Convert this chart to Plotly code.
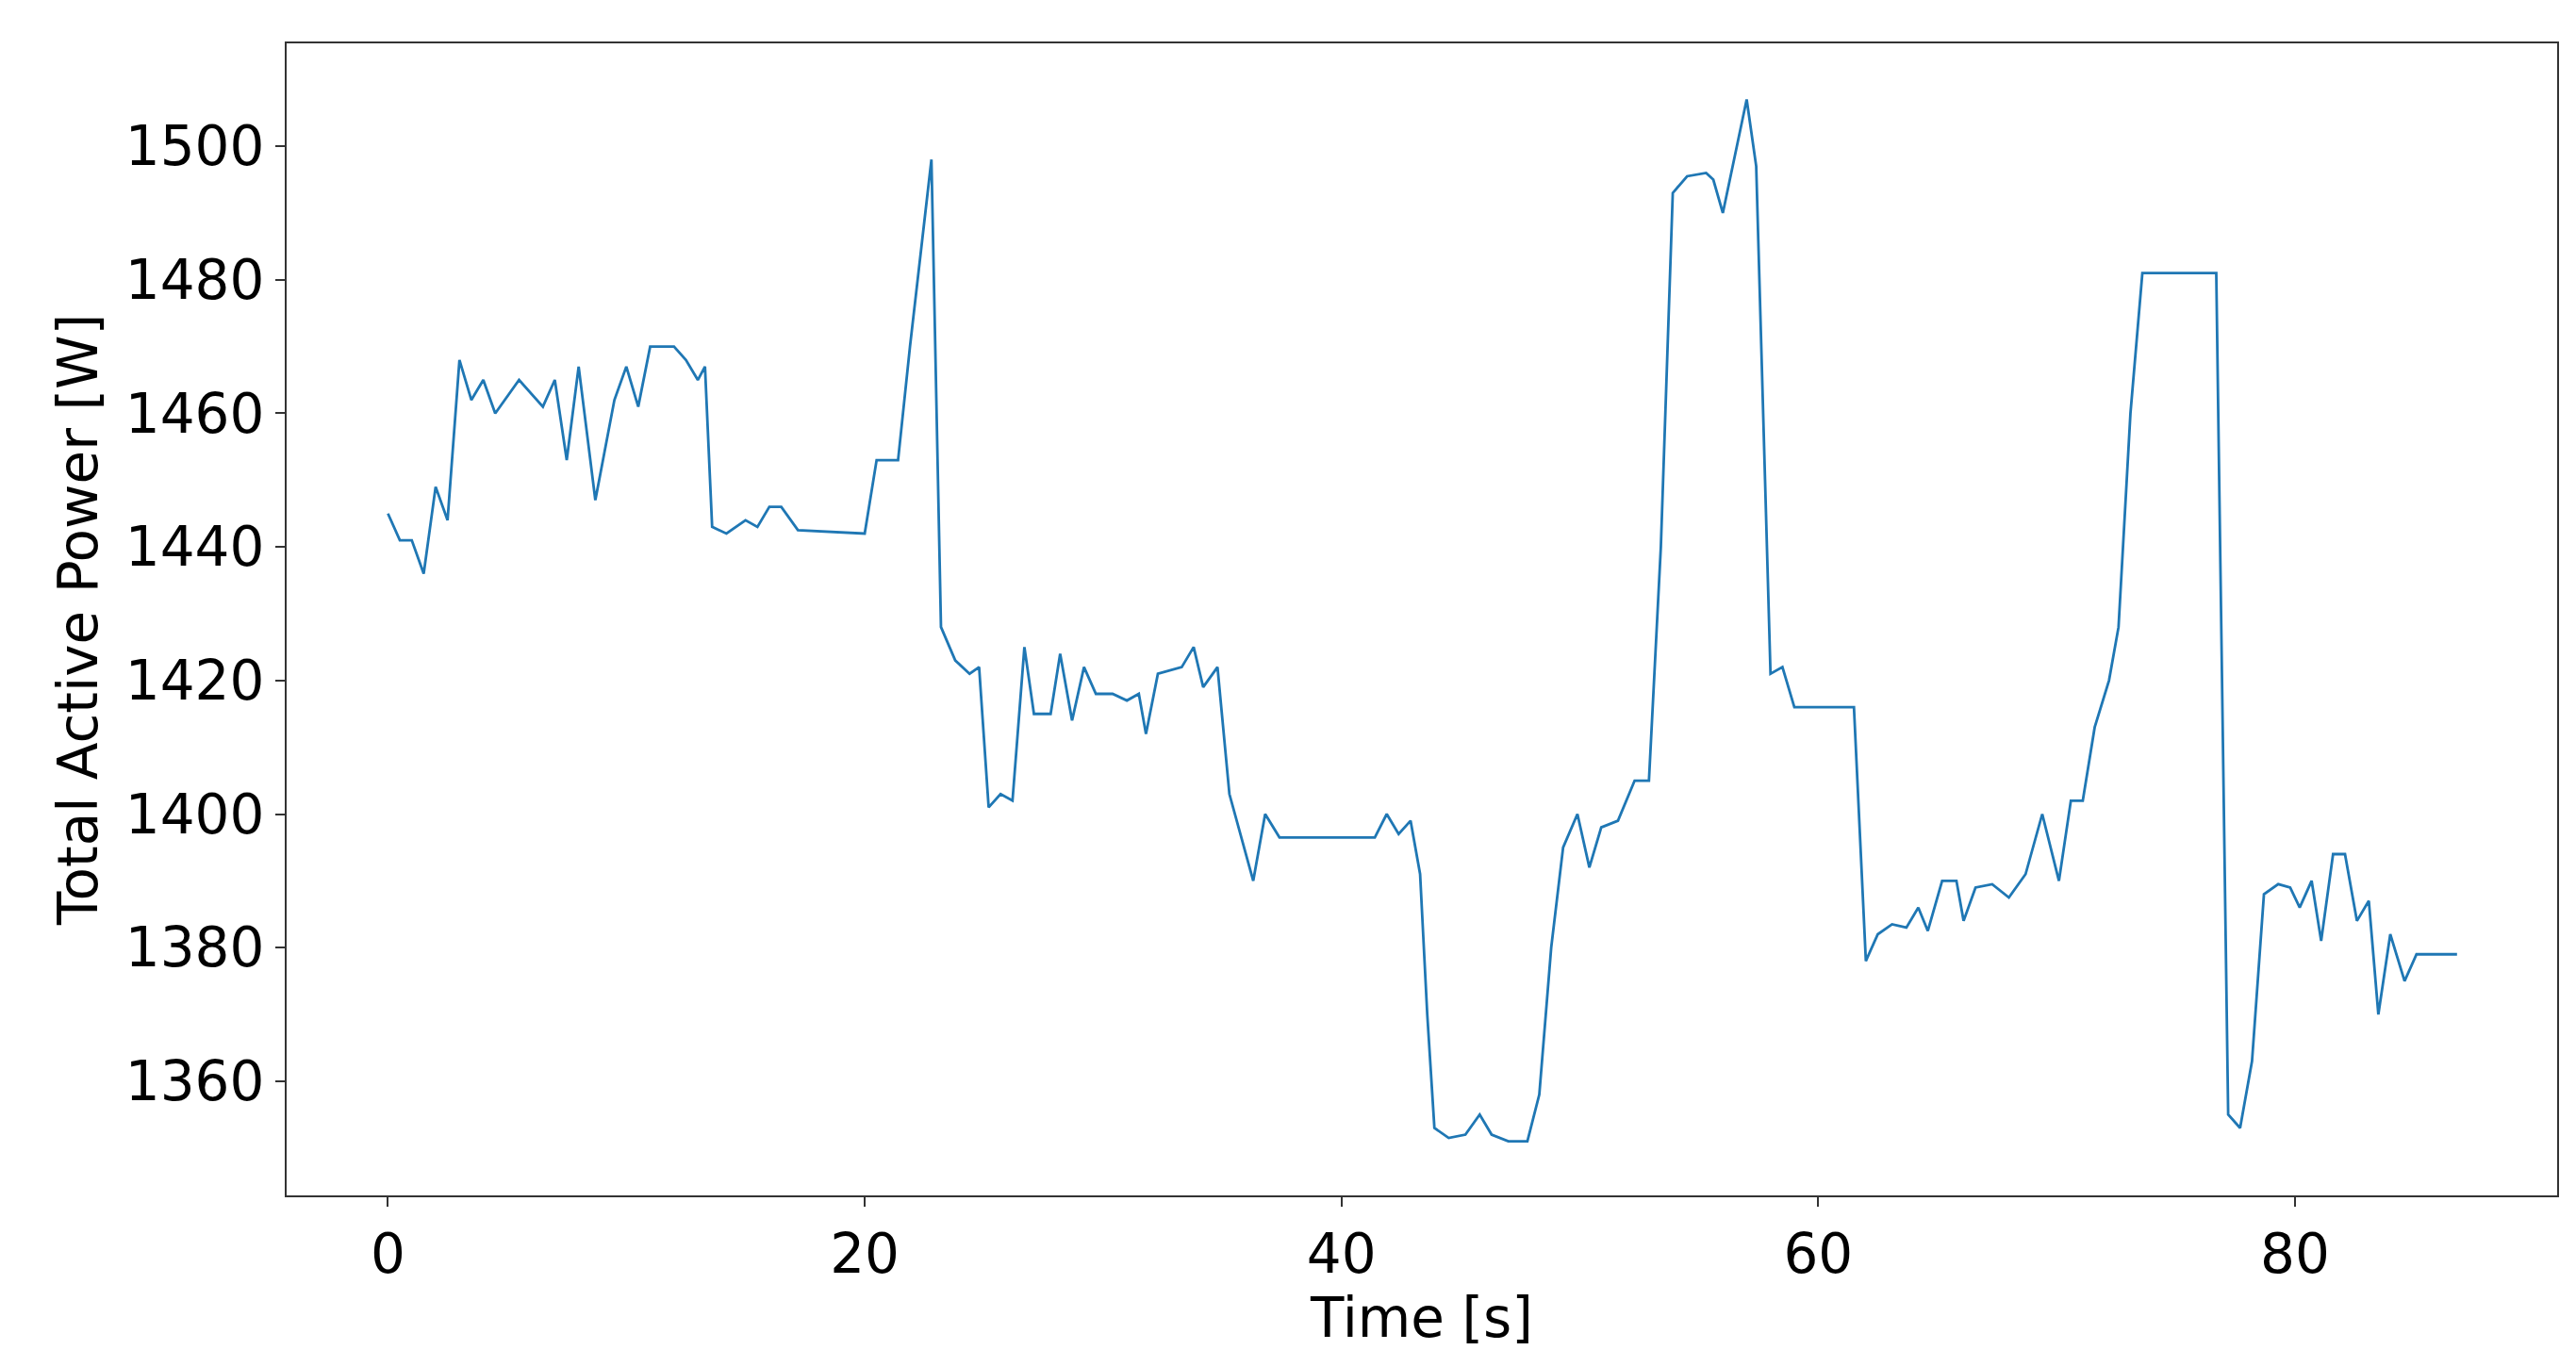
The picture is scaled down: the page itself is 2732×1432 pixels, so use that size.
import plotly.graph_objects as go

# ---------- data ----------
time_s = [0, 0.5, 1, 1.5, 2, 2.5, 3, 3.5, 4, 4.5, 5.5, 6.5, 7, 7.5, 8, 8.7, 9.5, 10, 10.5, 11,
          12, 12.5, 13, 13.3, 13.6, 14.2, 15, 15.5, 16, 16.5, 17.2, 20.0, 20.5, 21.4, 21.9, 22.4,
          22.8, 23.2, 23.8, 24.4, 24.8, 25.2, 25.7, 26.2, 26.7, 27.1, 27.8, 28.2, 28.7, 29.2,
          29.7, 30.4, 31.0, 31.5, 31.8, 32.3, 32.8, 33.3, 33.8, 34.2, 34.8, 35.3, 36.3, 36.8,
          37.4, 41.4, 41.9, 42.4, 42.9, 43.3, 43.6, 43.9, 44.5, 45.2, 45.8, 46.3, 47.0, 47.8, 48.3,
          48.8, 49.3, 49.9, 50.4, 50.9, 51.6, 52.3, 52.9, 53.4, 53.9, 54.5, 55.3, 55.6, 56.0,
          57.0, 57.4, 58.0, 58.5, 59.0, 61.5, 62.0, 62.5, 63.1, 63.7, 64.2, 64.6, 65.2, 65.8,
          66.1, 66.6, 67.3, 68.0, 68.7, 69.4, 70.1, 70.6, 71.1, 71.6, 72.2, 72.6, 73.1, 73.6,
          76.7, 77.2, 77.7, 78.2, 78.7, 79.3, 79.8, 80.2, 80.7, 81.1, 81.6, 82.1, 82.6, 83.1,
          83.5, 84.0, 84.6, 85.1, 86.8]
power_w = [1445, 1441, 1441, 1436, 1449, 1444, 1468, 1462, 1465, 1460, 1465, 1461, 1465, 1453, 1467,
           1447, 1462, 1467, 1461, 1470, 1470, 1468, 1465, 1467, 1443, 1442, 1444, 1443, 1446, 1446,
           1442.5, 1442, 1453, 1453, 1470, 1486, 1498, 1428, 1423, 1421, 1422, 1401, 1403, 1402,
           1425, 1415, 1415, 1424, 1414, 1422, 1418, 1418, 1417, 1418, 1412, 1421, 1421.5, 1422,
           1425, 1419, 1422, 1403, 1390, 1400, 1396.5, 1396.5, 1400, 1397, 1399, 1391, 1370, 1353, 1351.5,
           1352, 1355, 1352, 1351, 1351, 1358, 1380, 1395, 1400, 1392, 1398, 1399, 1405, 1405,
           1440, 1493, 1495.5, 1496, 1495, 1490, 1507, 1497, 1421, 1422, 1416, 1416, 1378, 1382,
           1383.5, 1383, 1386, 1382.5, 1390, 1390, 1384, 1389, 1389.5, 1387.5, 1391, 1400, 1390,
           1402, 1402, 1413, 1420, 1428, 1460, 1481, 1481, 1355, 1353, 1363, 1388, 1389.5, 1389,
           1386, 1390, 1381, 1394, 1394, 1384, 1387, 1370, 1382, 1375, 1379, 1379]

# ---------- figure ----------
fig = go.Figure()
fig.add_trace(go.Scatter(x=time_s, y=power_w, mode='lines',
                         line=dict(color='#1f77b4', width=2.8)))

axis_style = dict(showline=True, linecolor='#333', linewidth=2, mirror=True,
                  ticks='outside', ticklen=10, tickwidth=2, tickcolor='#333',
                  showgrid=False, zeroline=False,
                  tickfont=dict(size=58, color='black'),
                  title_font=dict(size=58, color='black'))

fig.update_layout(width=2732, height=1432, plot_bgcolor='white', paper_bgcolor='white',
                  showlegend=False, font=dict(family='DejaVu Sans'),
                  margin=dict(l=296, r=28, t=38, b=172))
fig.update_xaxes(title_text='Time [s]', range=[-4.25, 91.0],
                 tickvals=[0, 20, 40, 60, 80], title_standoff=4, **axis_style)
fig.update_yaxes(title_text='Total Active Power [W]', range=[1342.9, 1515.4],
                 tickvals=[1360, 1380, 1400, 1420, 1440, 1460, 1480, 1500],
                 title_standoff=10, **axis_style)

fig.write_html('out.html')
